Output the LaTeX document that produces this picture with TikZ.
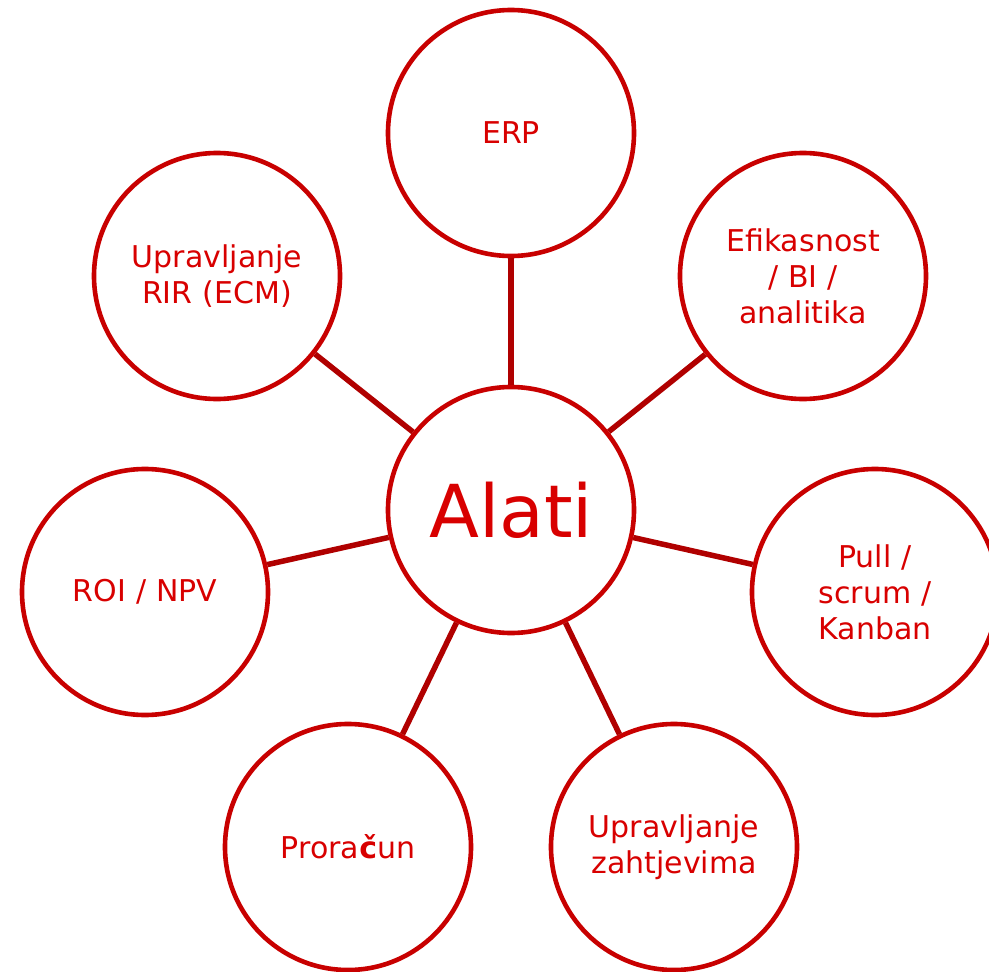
\documentclass[tikz,border=0pt]{standalone}
\usepackage{fontspec}
\setmainfont{DejaVu Sans}
\definecolor{ring}{HTML}{C80000}
\definecolor{link}{HTML}{B00000}
\definecolor{txt}{HTML}{D80000}
\begin{document}
\begin{tikzpicture}[x=1pt,y=-1pt,
  bub/.style={circle,draw=ring,line width=4.6pt,minimum size=246pt,inner sep=0pt,
    text=txt,font=\fontsize{30}{36}\selectfont,align=center,text width=210pt},
  con/.style={draw=link,line width=5.5pt}]
\useasboundingbox (0,0) rectangle (989,972);
\begin{scope}
\clip (0,0) rectangle (989,972);
\node[bub,font=\fontsize{73}{80}\selectfont] (c) at (511,510) {Alati};
\node[bub] (erp) at (511,133) {ERP};
\node[bub] (efi) at (803,276) {Efikasnost\\/ BI /\\analitika};
\node[bub] (rir) at (217,276) {Upravljanje\\RIR (ECM)};
\node[bub] (roi) at (145,592) {ROI / NPV};
\node[bub] (pull) at (875,592) {Pull /\\scrum /\\Kanban};
\node[bub] (pro) at (348,847) {Prora\textbf{č}un};
\node[bub] (zah) at (674,847) {Upravljanje\\zahtjevima};
\foreach \n in {erp,efi,rir,roi,pull,pro,zah}
  \draw[con] (c) -- (\n);
\end{scope}
\end{tikzpicture}
\end{document}
